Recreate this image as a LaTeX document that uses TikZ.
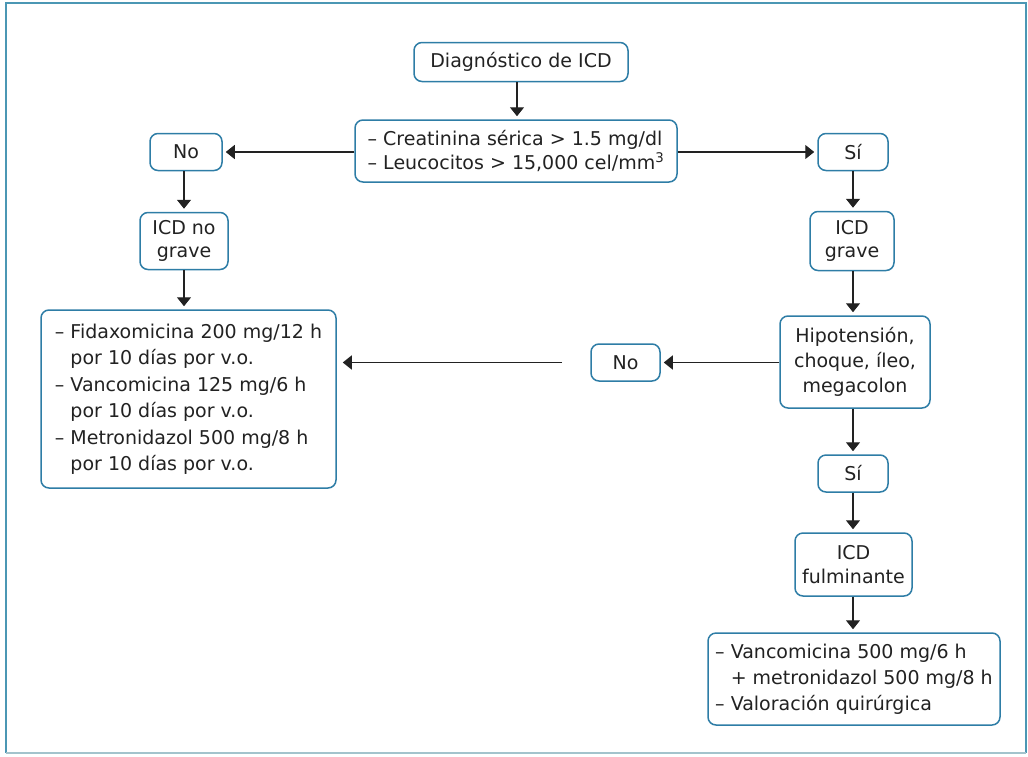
\documentclass[tikz,border=0pt]{standalone}
\usepackage{fontspec}
\setmainfont{DejaVu Sans}
\usetikzlibrary{arrows.meta}
\definecolor{frameblue}{HTML}{4B97B4}
\definecolor{framelow}{HTML}{A3C3CC}
\definecolor{boxblue}{HTML}{2E7DA6}
\definecolor{ink}{HTML}{222222}
\newcommand{\dashitem}{\textendash\ }
\newcommand{\contitem}{\phantom{\textendash\ }}
\begin{document}
\begin{tikzpicture}[x=1pt,y=-1pt,
  box/.style={draw=boxblue, line width=1.5pt, rounded corners=8pt, fill=white,
    text=ink, inner sep=0pt, align=center,
    font=\fontsize{19}{23.5}\selectfont},
  flow/.style={draw=ink, line width=1.4pt,
    -{Triangle[width=14pt,length=9pt]}, shorten >=3pt}
]
\useasboundingbox (0,0) rectangle (1028,756);
% outer frame
\draw[frameblue, line width=2.5pt] (6,753) -- (6,3) -- (1026,3) -- (1026,753);
\draw[framelow, line width=2.5pt] (6,753) -- (1026,753);

% nodes
\node[box, minimum width=214pt, minimum height=39pt] (diag) at (521,62) {Diagnóstico de ICD};
\node[box, minimum width=322pt, minimum height=62pt, align=left] (crit) at (516,151)
  {\dashitem Creatinina sérica > 1.5 mg/dl\\ \dashitem Leucocitos > 15,000 cel/mm\textsuperscript{3}};
\node[box, minimum width=72pt, minimum height=37pt] (no1) at (186,152) {No};
\node[box, minimum width=70pt, minimum height=37pt] (si1) at (853,152) {Sí};
\node[box, minimum width=88pt, minimum height=57pt] (nograve) at (184,241) {ICD no\\grave};
\node[box, minimum width=84pt, minimum height=59pt] (grave) at (852,241) {ICD\\grave};
\node[box, minimum width=295pt, minimum height=178pt, align=left,
  font=\fontsize{19}{26.5}\selectfont] (treat1) at (188.5,399)
  {\dashitem Fidaxomicina 200 mg/12 h\\ \contitem por 10 días por v.o.\\
   \dashitem Vancomicina 125 mg/6 h\\ \contitem por 10 días por v.o.\\
   \dashitem Metronidazol 500 mg/8 h\\ \contitem por 10 días por v.o.};
\node[box, minimum width=150pt, minimum height=92pt,
  font=\fontsize{19}{25}\selectfont] (hipo) at (855,362) {Hipotensión,\\choque, íleo,\\megacolon};
\node[box, minimum width=69pt, minimum height=37pt] (no2) at (625.5,362.5) {No};
\node[box, minimum width=70pt, minimum height=37pt] (si2) at (853,473.5) {Sí};
\node[box, minimum width=117pt, minimum height=63pt] (fulm) at (853.5,564.5) {ICD\\fulminante};
\node[box, minimum width=292pt, minimum height=92pt, align=left,
  font=\fontsize{19}{26}\selectfont] (treat2) at (854,679)
  {\dashitem Vancomicina 500 mg/6 h\\ \contitem + metronidazol 500 mg/8 h\\ \dashitem Valoración quirúrgica};

\coordinate (nostart) at (562,362.5);

% connectors
\draw[flow] (diag.south -| 517,0) -- (crit.north -| 517,0);
\draw[flow] (crit.west |- no1) -- (no1.east);
\draw[flow] (crit.east |- si1) -- (si1.west);
\draw[flow] (no1.south -| nograve) -- (nograve.north);
\draw[flow] (nograve.south) -- (treat1.north -| nograve);
\draw[flow] (si1.south) -- (grave.north -| si1);
\draw[flow] (grave.south -| si1) -- (hipo.north -| si1);
\draw[flow] (hipo.west |- no2) -- (no2.east);
\draw[flow, shorten >=6pt] (nostart) -- (treat1.east |- nostart);
\draw[flow] (hipo.south -| si1) -- (si2.north);
\draw[flow] (si2.south) -- (fulm.north -| si2);
\draw[flow] (fulm.south -| si2) -- (treat2.north -| si2);
\end{tikzpicture}
\end{document}
